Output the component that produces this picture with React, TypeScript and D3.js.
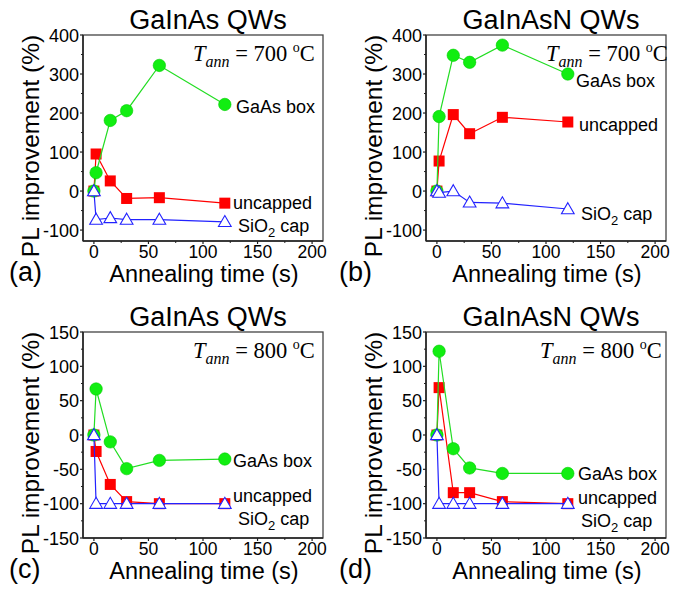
import React from "react";
import * as d3 from "d3";

// Annealing times (s)
const times = [0, 2, 15, 30, 60, 120];

// (a) GaInAs QWs, 700 C
const aGaAsBox = [0, 47, 181, 206, 322, 222];
const aUncapped = [0, 95, 26, -19, -17, -31];
const aSiO2 = [0, -73, -69, -73, -73, -79];
// (b) GaInAsN QWs, 700 C
const bGaAsBox = [0, 191, 348, 330, 374, 300];
const bUncapped = [0, 77, 196, 147, 189, 177];
const bSiO2 = [0, -4, 0, -29, -31, -46];
// (c) GaInAs QWs, 800 C
const cGaAsBox = [0, 67, -10, -49, -37, -35];
const cUncapped = [0, -24, -72, -97, -100, -100];
const cSiO2 = [0, -100, -100, -100, -100, -100];
// (d) GaInAsN QWs, 800 C
const dGaAsBox = [0, 122, -20, -48, -56, -56];
const dUncapped = [0, 69, -84, -84, -97, -100];
const dSiO2 = [0, -100, -100, -100, -100, -100];

const xTicks = [0, 50, 100, 150, 200];
const yTicksHigh = [-100, 0, 100, 200, 300, 400];
const yTicksLow = [-150, -100, -50, 0, 50, 100, 150];

const GREEN = "#11ee11";
const GREEN_LINE = "#22dd22";
const RED = "#ff0000";
const BLUE = "#2222ff";

const SANS = "'Liberation Sans', Arial, sans-serif";
const SERIF = "'Liberation Serif', 'Times New Roman', serif";

type PanelCfg = {
  left: number;
  top: number;
  width: number;
  height: number;
  yDomain: [number, number];
  yTicks: number[];
  yMinor: number;
  title: string;
  temp: string;
  letter: string;
  letterX: number;
  tempX: number;
  green: number[];
  red: number[];
  blue: number[];
  labels: { green: [number, number]; red: [number, number]; blue: [number, number] };
};

const panels: PanelCfg[] = [
  {
    left: 83, top: 35, width: 240, height: 206,
    yDomain: [-128, 400], yTicks: yTicksHigh, yMinor: 50,
    title: "GaInAs QWs", temp: "700", letter: "(a)", letterX: 9, tempX: 193,
    green: aGaAsBox, red: aUncapped, blue: aSiO2,
    labels: { green: [236, 106], red: [233, 202], blue: [238, 225] },
  },
  {
    left: 426, top: 35, width: 240, height: 206,
    yDomain: [-128, 400], yTicks: yTicksHigh, yMinor: 50,
    title: "GaInAsN QWs", temp: "700", letter: "(b)", letterX: 339, tempX: 546,
    green: bGaAsBox, red: bUncapped, blue: bSiO2,
    labels: { green: [576, 80], red: [579, 124], blue: [581, 213] },
  },
  {
    left: 83, top: 332, width: 240, height: 206,
    yDomain: [-150, 150], yTicks: yTicksLow, yMinor: 25,
    title: "GaInAs QWs", temp: "800", letter: "(c)", letterX: 9, tempX: 193,
    green: cGaAsBox, red: cUncapped, blue: cSiO2,
    labels: { green: [233, 460], red: [233, 495], blue: [238, 518] },
  },
  {
    left: 426, top: 332, width: 240, height: 206,
    yDomain: [-150, 150], yTicks: yTicksLow, yMinor: 25,
    title: "GaInAsN QWs", temp: "800", letter: "(d)", letterX: 339, tempX: 540,
    green: dGaAsBox, red: dUncapped, blue: dSiO2,
    labels: { green: [578, 473], red: [578, 497], blue: [581, 520] },
  },
];

const triPath = d3.symbol().type(d3.symbolTriangle).size(70)() as string;

function Panel({ p }: { p: PanelCfg }) {
  const x = d3.scaleLinear().domain([-10, 210]).range([p.left, p.left + p.width]);
  const y = d3.scaleLinear().domain(p.yDomain).range([p.top + p.height, p.top]);
  const bottom = p.top + p.height;
  const right = p.left + p.width;
  const line = d3
    .line<[number, number]>()
    .x((d) => x(d[0]))
    .y((d) => y(d[1]));
  const pts = (vals: number[]) => times.map((t, i) => [t, vals[i]] as [number, number]);

  const xMinor = d3.range(25, 200, 50);
  const yMinor = d3
    .range(-200, p.yDomain[1] + 1, p.yMinor)
    .filter((v) => !p.yTicks.includes(v) && v >= p.yDomain[0] && v <= p.yDomain[1]);

  const axisColor = "#222";
  const cx = (p.left + right) / 2;

  return (
    <g>
      {/* title */}
      <text x={cx + 5} y={p.top - 6} textAnchor="middle" fontFamily={SANS} fontSize={27} fill="#000">
        {p.title}
      </text>
      {/* frame */}
      <rect x={p.left} y={p.top} width={p.width} height={p.height} fill="none" stroke="#444" strokeWidth={1.3} />
      <line x1={p.left} x2={p.left} y1={p.top} y2={bottom} stroke={axisColor} strokeWidth={1.5} />
      <line x1={p.left} x2={right} y1={bottom} y2={bottom} stroke={axisColor} strokeWidth={1.5} />
      {/* y ticks */}
      {p.yTicks.map((v) => (
        <g key={"yt" + v}>
          <line x1={p.left - 3} x2={p.left} y1={y(v)} y2={y(v)} stroke={axisColor} strokeWidth={1.2} />
          <text x={p.left - 4} y={y(v) + 6.5} textAnchor="end" fontFamily={SANS} fontSize={18} fill="#000">
            {v}
          </text>
        </g>
      ))}
      {yMinor.map((v) => (
        <line key={"ym" + v} x1={p.left - 2} x2={p.left} y1={y(v)} y2={y(v)} stroke={axisColor} strokeWidth={1} />
      ))}
      {/* x ticks */}
      {xTicks.map((v) => (
        <g key={"xt" + v}>
          <line x1={x(v)} x2={x(v)} y1={bottom} y2={bottom + 3} stroke={axisColor} strokeWidth={1.2} />
          <text x={x(v)} y={bottom + 16.5} textAnchor="middle" fontFamily={SANS} fontSize={17.5} fill="#000">
            {v}
          </text>
        </g>
      ))}
      {xMinor.map((v) => (
        <line key={"xm" + v} x1={x(v)} x2={x(v)} y1={bottom} y2={bottom + 2} stroke={axisColor} strokeWidth={1} />
      ))}
      {/* axis titles */}
      <text x={cx + 1} y={bottom + 41} textAnchor="middle" fontFamily={SANS} fontSize={23.5} fill="#000">
        Annealing time (s)
      </text>
      <text
        transform={`translate(${p.left - 44},${p.top + p.height / 2 + 8}) rotate(-90)`}
        textAnchor="middle"
        fontFamily={SANS}
        fontSize={24.5}
        fill="#000"
      >
        PL improvement (%)
      </text>
      <text x={p.letterX} y={bottom + 40} fontFamily={SANS} fontSize={27} fill="#000">
        {p.letter}
      </text>
      {/* T_ann */}
      <text x={p.tempX} y={p.top + 26} fontFamily={SERIF} fontSize={22.5} fill="#000">
        <tspan fontStyle="italic">T</tspan>
        <tspan fontStyle="italic" fontSize={16} dy={6}>ann</tspan>
        <tspan dy={-6}>{" = " + p.temp + " "}</tspan>
        <tspan fontSize={14} dy={-9}>o</tspan>
        <tspan dy={9}>C</tspan>
      </text>
      {/* series: red, green, blue */}
      <path d={line(pts(p.red)) ?? ""} fill="none" stroke={RED} strokeWidth={1.2} />
      {pts(p.red).map((d, i) => (
        <rect key={"r" + i} x={x(d[0]) - 5.5} y={y(d[1]) - 5.5} width={11} height={11} fill={RED} />
      ))}
      <path d={line(pts(p.green)) ?? ""} fill="none" stroke={GREEN_LINE} strokeWidth={1.2} />
      {pts(p.green).map((d, i) => (
        <circle key={"g" + i} cx={x(d[0])} cy={y(d[1])} r={6.2} fill={GREEN} stroke="#00cc00" strokeWidth={0.6} />
      ))}
      <path d={line(pts(p.blue)) ?? ""} fill="none" stroke={BLUE} strokeWidth={1.2} />
      {pts(p.blue).map((d, i) => (
        <path
          key={"b" + i}
          d={triPath}
          transform={`translate(${x(d[0])},${y(d[1]) + 1})`}
          fill="#fff"
          stroke={BLUE}
          strokeWidth={1.1}
        />
      ))}
      {/* series labels */}
      <text x={p.labels.green[0]} y={p.labels.green[1] + 6.5} fontFamily={SANS} fontSize={18} fill="#000">
        GaAs box
      </text>
      <text x={p.labels.red[0]} y={p.labels.red[1] + 6.5} fontFamily={SANS} fontSize={18} fill="#000">
        uncapped
      </text>
      <text x={p.labels.blue[0]} y={p.labels.blue[1] + 6.5} fontFamily={SANS} fontSize={18} fill="#000">
        SiO<tspan fontSize={13} dy={5}>2</tspan>
        <tspan dy={-5}>{" cap"}</tspan>
      </text>
    </g>
  );
}

export default function App() {
  return (
    <svg
      width={673}
      height={592}
      viewBox="0 0 673 592"
      style={{ position: "absolute", left: 0, top: 0, background: "#fff" }}
    >
      <rect x={0} y={0} width={673} height={592} fill="#fff" />
      {panels.map((p, i) => (
        <Panel key={i} p={p} />
      ))}
    </svg>
  );
}
